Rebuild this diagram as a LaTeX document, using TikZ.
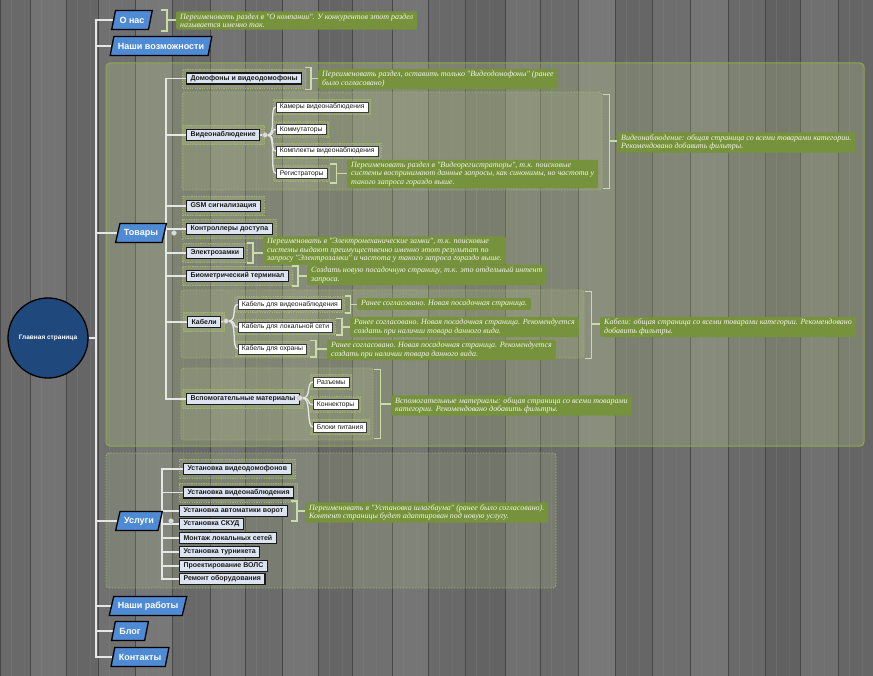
\documentclass[tikz,border=0pt]{standalone}
\usepackage{fontspec}
\setmainfont{Liberation Sans}
\newfontfamily\notefont{Liberation Serif}
\usetikzlibrary{shapes.geometric,fit,calc}

\pgfdeclarelayer{wood}
\pgfdeclarelayer{groups}
\pgfdeclarelayer{links}
\pgfsetlayers{wood,groups,links,main}

\definecolor{linkcol}{HTML}{E6E6E6}
\definecolor{topblue}{HTML}{4F8AD4}
\definecolor{rootblue}{HTML}{1F497D}
\definecolor{notegreen}{HTML}{76923C}
\definecolor{notetext}{HTML}{F4F4E8}
\definecolor{brkcol}{HTML}{C9DCA6}
\definecolor{grpline}{HTML}{8DAA4A}
\definecolor{haloline}{HTML}{9DB860}
\definecolor{grpfill}{HTML}{BFD08F}
\definecolor{catfill}{HTML}{DCE4F2}
\definecolor{ink}{HTML}{1A1A1A}
\definecolor{knobfill}{HTML}{DDDDDD}

\tikzset{
  x=1pt, y=-1pt,
  link/.style={draw=linkcol, line width=1.3pt},
  topnode/.style={trapezium, trapezium left angle=70, trapezium right angle=110,
    trapezium stretches=true,
    draw=black, line width=1.3pt, fill=topblue, text=white,
    font=\bfseries\fontsize{9}{10}\selectfont, minimum height=19pt,
    inner xsep=4pt, inner ysep=2pt},
  rootnode/.style={circle, draw=black, line width=1.3pt, fill=rootblue, text=white,
    font=\bfseries\fontsize{6.5}{7}\selectfont, minimum size=80pt, inner sep=0pt},
  cat/.style={anchor=west, draw=ink, line width=1.1pt, fill=catfill, text=ink,
    font=\bfseries\fontsize{7}{8}\selectfont, inner xsep=4pt, inner ysep=1.5pt,
    minimum height=11pt},
  subitem/.style={anchor=west, draw=ink!85, line width=0.6pt, fill=white, text=ink,
    font=\fontsize{6.8}{8}\selectfont, inner xsep=3.5pt, inner ysep=1.5pt,
    minimum height=10pt},
  note/.style={anchor=west, fill=notegreen, rounded corners=2pt, text=notetext,
    font=\notefont\itshape\fontsize{8}{8.4}\selectfont, align=left,
    inner xsep=4pt, inner ysep=2.2pt},
  halo/.style={draw=haloline, dash pattern=on 1.2pt off 1.2pt, line width=0.7pt,
    fill=grpfill, fill opacity=0.2, inner sep=3.5pt},
  maingroup/.style={draw=grpline, line width=1pt, rounded corners=4pt,
    fill=grpfill, fill opacity=0.25, inner sep=0pt},
  subgroup/.style={draw=haloline, dash pattern=on 1.5pt off 1.5pt, line width=0.8pt,
    rounded corners=3pt, fill=grpfill, fill opacity=0.17, inner sep=0pt},
  brk/.style={draw=brkcol, line width=1.6pt},
  knob/.style={circle, fill=knobfill, draw=gray!60, line width=0.4pt,
    minimum size=5pt, inner sep=0pt},
}

% bracket "]-" from a node (or group) to its comment
\newcommand\brkt[5]{%
  \draw[brk] ($(#1.north east)+(#3,#4)$) -- ++(6,0) -- ($(#1.south east)+(#3+6,#5)$) -- ++(-6,0);
  \draw[brk] ($(#1.east)+(#3+6,0)$) -- (#2.west |- #1.east);}

% curved fan connector
\newcommand\fan[2]{\draw[link] (#1.east) .. controls +(9,0) and +(-7,0) .. (#2.west);}

\begin{document}
\begin{tikzpicture}
\useasboundingbox (0,0) rectangle (873,676);

% ---------- wooden background ----------
\begin{pgfonlayer}{wood}
\fill[white!42!black] (0,0) rectangle (873,676);
\foreach \xa/\xb/\sh in {0/30/41, 30/66/45, 66/98/40, 98/135/44, 135/172/47,
  172/210/41, 210/245/45, 245/282/42, 282/318/46, 318/352/40, 352/392/44,
  392/428/46, 428/465/41, 465/505/39, 505/540/44, 540/578/42, 578/615/47,
  615/652/40, 652/690/43, 690/728/46, 728/765/41, 765/800/38, 800/838/44, 838/873/40}{
  \fill[white!\sh!black] (\xa,0) rectangle (\xb,676);
  \draw[white!52!black, opacity=0.35, line width=0.6pt] (\xa+11,0) -- (\xa+11,676);
  \draw[white!52!black, opacity=0.2, line width=0.5pt] (\xa+24,0) -- (\xa+24,676);
  \draw[white!28!black, line width=0.8pt] (\xa,0) -- (\xa,676);
}
\end{pgfonlayer}

% ---------- root and first level ----------
\node[rootnode] (root) at (48,338) {Главная страница};
\coordinate (trunk) at (96,338);

\node[topnode] (onas) at (132,20) {О нас};
\node[topnode] (vozm) at (161,46) {Наши возможности};
\node[topnode] (tovary) at (141,233) {Товары};
\node[topnode] (uslugi) at (139,521) {Услуги};
\node[topnode] (raboty) at (148,606) {Наши работы};
\node[topnode] (blog) at (130,631) {Блог};
\node[topnode] (kontakty) at (140,657) {Контакты};

% ---------- products ----------
\coordinate (tspine) at (166,233);
\node[knob] (tknob) at (174,233) {};
\node[cat] (dom) at (186,78.5) {Домофоны и видеодомофоны};
\node[cat] (vid) at (186,135) {Видеонаблюдение};
\node[cat] (gsm) at (186,206) {GSM сигнализация};
\node[cat] (kontr) at (186,229) {Контроллеры доступа};
\node[cat] (ezam) at (186,253) {Электрозамки};
\node[cat] (bio) at (186,276) {Биометрический терминал};
\node[cat] (kab) at (187,322) {Кабели};
\node[cat] (vsp) at (186,399) {Вспомогательные материалы};

\node[knob] (vknob) at (265,135) {};
\node[subitem] (kam) at (276,107) {Камеры видеонаблюдения};
\node[subitem] (komm) at (276,129.5) {Коммутаторы};
\node[subitem] (kompl) at (276,151) {Комплекты видеонаблюдения};
\node[subitem] (reg) at (276,173.5) {Регистраторы};

\node[knob] (kknob) at (226,321) {};
\node[subitem] (kvid) at (238,304.5) {Кабель для видеонаблюдения};
\node[subitem] (klok) at (238,327) {Кабель для локальной сети};
\node[subitem] (kohr) at (238,349) {Кабель для охраны};

\node[knob] (sknob) at (300,398) {};
\node[subitem] (raz) at (313,382) {Разъемы};
\node[subitem] (konn) at (313,404.5) {Коннекторы};
\node[subitem] (blok) at (313,427) {Блоки питания};

% ---------- services ----------
\coordinate (uspine) at (162,521);
\node[knob] (uknob) at (171,521) {};
\node[cat] (u1) at (183,469) {Установка видеодомофонов};
\node[cat] (u2) at (183,492.5) {Установка видеонаблюдения};
\node[cat] (u3) at (179,511) {Установка автоматики ворот};
\node[cat] (u4) at (179,524) {Установка СКУД};
\node[cat] (u5) at (179,538) {Монтаж локальных сетей};
\node[cat] (u6) at (179,552) {Установка турникета};
\node[cat] (u7) at (179,566) {Проектирование ВОЛС};
\node[cat] (u8) at (179,579) {Ремонт оборудования};

% ---------- comments ----------
\node[note] (nonas) at (176,20.5) {Переименовать раздел в "О компании". У конкурентов этот раздел\\называется именно так.};
\node[note] (ndom) at (318,79) {Переименовать раздел, оставить только "Видеодомофоны" (ранее\\было согласовано)};
\node[note] (nreg) at (347,174) {Переименовать раздел в "Видеорегистраторы", т.к. поисковые\\системы воспринимают данные запросы, как синонимы, но частота у\\такого запроса гораздо выше.};
\node[note] (nvid) at (617,142.5) {Видеонаблюдение: общая страница со всеми товарами категории.\\Рекомендовано добавить фильтры.};
\node[note] (nezam) at (263,250.5) {Переименовать в "Электромеханические замки", т.к. поисковые\\системы выдают преимущественно именно этот результат по\\запросу "Электрозамки" и частота у такого запроса гораздо выше.};
\node[note] (nbio) at (307,275) {Создать новую посадочную страницу, т.к. это отдельный интент\\запроса.};
\node[note] (nkvid) at (357,304) {Ранее согласовано. Новая посадочная страница.};
\node[note] (nklok) at (350,327) {Ранее согласовано. Новая посадочная страница. Рекомендуется\\создать при наличии товара данного вида.};
\node[note] (nkohr) at (327,350) {Ранее согласовано. Новая посадочная страница. Рекомендуется\\создать при наличии товара данного вида.};
\node[note] (nkab) at (600,327) {Кабели: общая страница со всеми товарами категории. Рекомендовано\\добавить фильтры.};
\node[note] (nvsp) at (391,405.5) {Вспомогательные материалы: общая страница со всеми товарами\\категории. Рекомендовано добавить фильтры.};
\node[note] (nu3) at (305,512.5) {Переименовать в "Установка шлагбаума" (ранее было согласовано).\\Контент страницы будет адаптирован под новую услугу.};

% ---------- group frames and halos ----------
\begin{pgfonlayer}{groups}
\node[maingroup, fit={(106,63) (864,446)}] (gtov) {};
\node[subgroup, fit={(182,92) (602,190)}] (gvid) {};
\node[subgroup, fit={(181,290) (584,358)}] (gkab) {};
\node[subgroup, fit={(181,368) (373,440)}] (gvsp) {};
\node[subgroup, fit={(106,453) (556,588)}] (guslugi) {};
\foreach \n in {dom,vid,gsm,kontr,ezam,bio,kab,vsp,u1,u2}{
  \node[halo, fit=(\n)] {};}
\foreach \n in {kam,komm,kompl,reg,kvid,klok,kohr,raz,konn,blok}{
  \node[halo, inner sep=2.5pt, fit=(\n)] {};}
\end{pgfonlayer}

% ---------- connectors ----------
\begin{pgfonlayer}{links}
\draw[link] (root.east) -- (trunk);
\foreach \n in {onas,vozm,tovary,uslugi,raboty,blog,kontakty}{
  \draw[link] (trunk) |- (\n.west);}

\draw[link] (tovary.east) -- (tspine);
\foreach \n in {dom,vid,gsm,kontr,ezam,bio,kab,vsp}{
  \draw[link] (tspine) |- (\n.west);}

\draw[link] (vid.east) -- (vknob);
\foreach \n in {kam,komm,kompl,reg}{\fan{vknob}{\n}}
\draw[link] (kab.east) -- (kknob);
\foreach \n in {kvid,klok,kohr}{\fan{kknob}{\n}}
\draw[link] (vsp.east) -- (sknob);
\foreach \n in {raz,konn,blok}{\fan{sknob}{\n}}

\draw[link] (uslugi.east) -- (uspine);
\foreach \n in {u1,u2,u3,u4,u5,u6,u7,u8}{
  \draw[link] (uspine) |- (\n.west);}

% brackets to the comments
\draw[brk] ($(onas.east)+(10,-10)$) -- ++(6,0) -- ++(0,21) -- ++(-6,0);
\draw[brk] ($(onas.east)+(16,0)$) -- (nonas.west |- onas.east);
\brkt{dom}{ndom}{3}{-5}{5}
\brkt{reg}{nreg}{3}{-4}{4}
\brkt{ezam}{nezam}{3}{-4}{4}
\brkt{bio}{nbio}{3}{-4}{4}
\brkt{kvid}{nkvid}{3}{-3}{3}
\brkt{klok}{nklok}{3}{-3}{3}
\brkt{kohr}{nkohr}{3}{-3}{3}
\brkt{u3}{nu3}{3}{-4}{4}
\brkt{gvid}{nvid}{1}{3}{-2}
\brkt{gkab}{nkab}{1}{2}{0}
\brkt{gvsp}{nvsp}{1}{2}{-2}
\end{pgfonlayer}
\end{tikzpicture}
\end{document}
